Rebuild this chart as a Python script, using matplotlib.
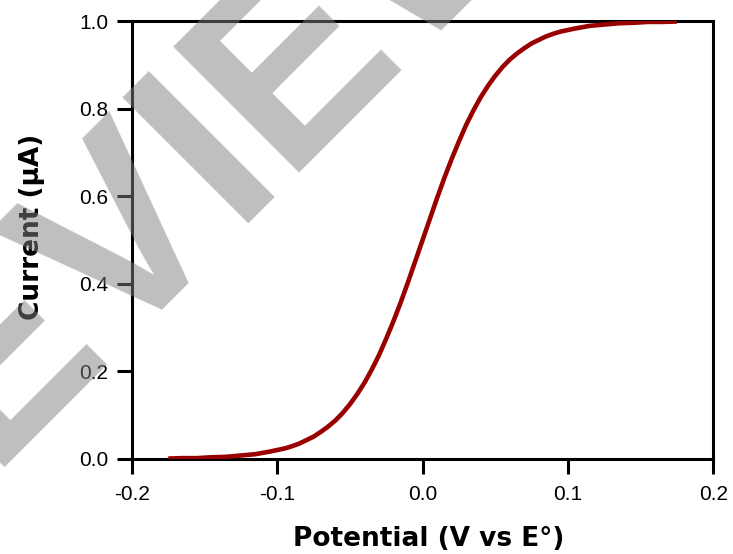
import numpy as np
import matplotlib
matplotlib.use('Agg')
from matplotlib import pyplot as plt


# potential (V vs E0) and current (uA)
potential = [-0.175, -0.165, -0.155, -0.145, -0.135, -0.125, -0.115, -0.105,
             -0.095, -0.09, -0.085, -0.08, -0.075, -0.07, -0.065, -0.06,
             -0.055, -0.05, -0.045, -0.04, -0.035, -0.03, -0.025, -0.02,
             -0.015, -0.01, -0.005, 0.0, 0.005, 0.01, 0.015, 0.02,
             0.025, 0.03, 0.035, 0.04, 0.045, 0.05, 0.055, 0.06,
             0.065, 0.07, 0.075, 0.08, 0.085, 0.09, 0.095, 0.105,
             0.115, 0.125, 0.135, 0.145, 0.155, 0.165, 0.175]
current = [0.001, 0.002, 0.002, 0.004, 0.005, 0.008, 0.011, 0.017,
           0.024, 0.029, 0.035, 0.043, 0.051, 0.062, 0.074, 0.088,
           0.105, 0.125, 0.148, 0.174, 0.204, 0.237, 0.275, 0.315,
           0.358, 0.404, 0.452, 0.500, 0.548, 0.596, 0.642, 0.685,
           0.725, 0.763, 0.796, 0.826, 0.852, 0.875, 0.895, 0.912,
           0.926, 0.938, 0.949, 0.957, 0.965, 0.971, 0.976, 0.983,
           0.989, 0.992, 0.995, 0.996, 0.998, 0.998, 0.999]

xticks = [-0.2, -0.1, 0.0, 0.1, 0.2]
yticks = [0.0, 0.2, 0.4, 0.6, 0.8, 1.0]

fig = plt.figure(figsize=(7.33, 5.54), dpi=100)
ax = fig.add_axes([0.180, 0.1715, 0.793, 0.7905])

ax.plot(potential, current, color='#990000', lw=3.3, solid_capstyle='butt', zorder=3)

ax.set_xlim(-0.2, 0.2)
ax.set_ylim(0.0, 1.0)
ax.set_xticks(xticks)
ax.set_yticks(yticks)
ax.set_xticklabels(['-0.2', '-0.1', '0.0', '0.1', '0.2'])
ax.set_yticklabels(['%.1f' % v for v in yticks])

for s in ax.spines.values():
    s.set_linewidth(2.2)
ax.tick_params(direction='out', length=11, width=2.2, pad=6)
ax.tick_params(axis='x', pad=8)
for lab in ax.get_xticklabels() + ax.get_yticklabels():
    lab.set_fontfamily('Liberation Sans')
    lab.set_fontsize(15)

ax.set_xlabel('Potential (V vs E°)', fontsize=19, fontweight='bold',
              family='DejaVu Sans', va='top')
ax.set_ylabel('Current (µA)', fontsize=19, fontweight='bold',
              family='DejaVu Sans')
ax.xaxis.set_label_coords(0.511, -0.152)
ax.yaxis.set_label_coords(-0.150, 0.530)

# watermark on top of everything
fig.text(0.213, 0.462, 'PREVIEW', rotation=45, rotation_mode='anchor',
         ha='center', va='baseline', fontsize=186, fontweight='bold',
         family='Liberation Sans', color='#808080', alpha=0.5, zorder=10)

fig.savefig('out.png', dpi=100)
